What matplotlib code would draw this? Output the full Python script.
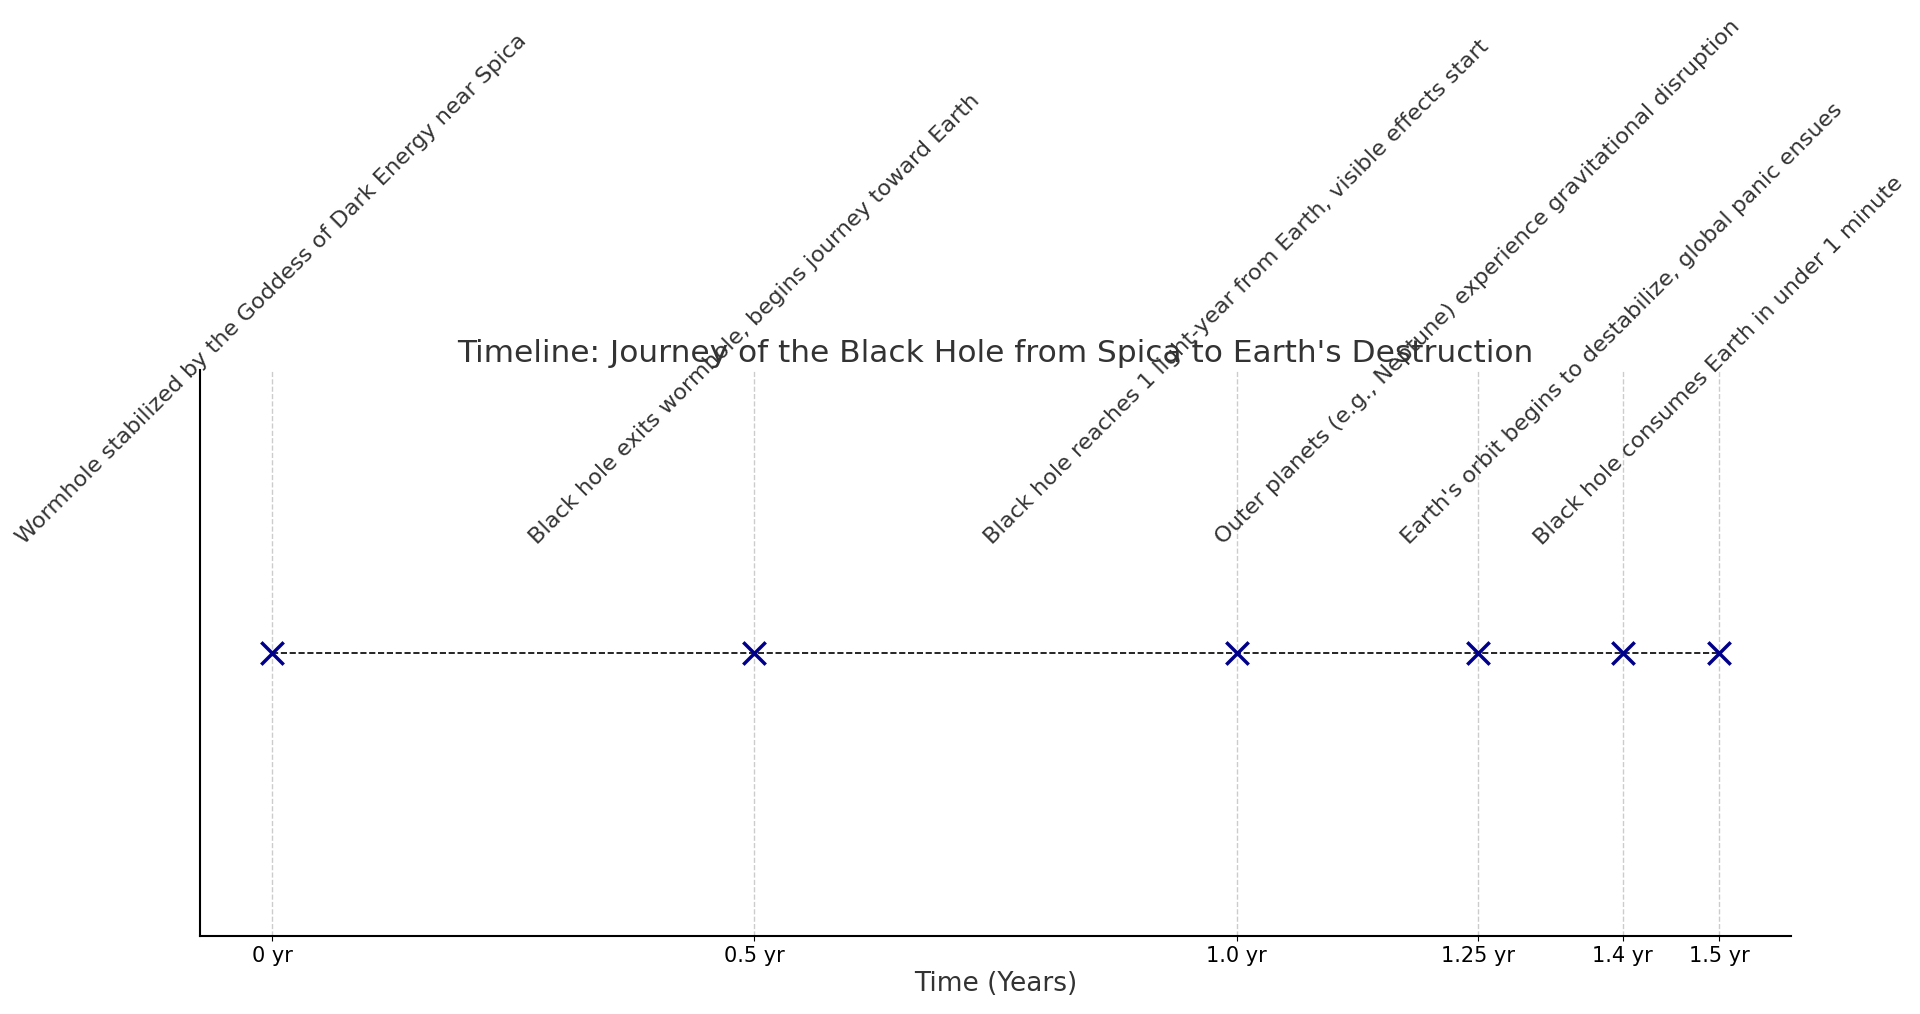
import matplotlib
matplotlib.use("Agg")
import matplotlib.pyplot as plt

times = [0, 0.5, 1.0, 1.25, 1.4, 1.5]
tick_labels = ["0 yr", "0.5 yr", "1.0 yr", "1.25 yr", "1.4 yr", "1.5 yr"]
events = [
    "Wormhole stabilized by the Goddess of Dark Energy near Spica",
    "Black hole exits wormhole, begins journey toward Earth",
    "Black hole reaches 1 light-year from Earth, visible effects start",
    "Outer planets (e.g., Neptune) experience gravitational disruption",
    "Earth's orbit begins to destabilize, global panic ensues",
    "Black hole consumes Earth in under 1 minute",
]

fig = plt.figure(figsize=(19.2, 10.14), dpi=100)
ax = fig.add_axes([0.104, 0.077, 0.829, 0.558])
c = "#333333"
ax.plot(times, [0]*len(times), "--", color="black", lw=1.2, zorder=2)
ax.scatter(times, [0]*len(times), marker="x", s=260, color="#00008b", linewidths=2.5, zorder=3)
for t, e in zip(times, events):
    ax.text(t, 0.37, e, rotation=45, ha="center", va="bottom", fontsize=16.2, color=c)
ax.set_xlim(-0.075, 1.575)
ax.set_ylim(-1, 1)
ax.set_yticks([])
ax.set_xticks(times)
ax.set_xticklabels(tick_labels, fontsize=15, color="black")
ax.grid(axis="x", linestyle="--", color="#cccccc", lw=1)
ax.set_axisbelow(True)
for s in ["top", "right"]:
    ax.spines[s].set_visible(False)
ax.spines["left"].set_linewidth(1.5)
ax.spines["bottom"].set_linewidth(1.5)
ax.set_xlabel("Time (Years)", fontsize=19, color=c)
ax.set_title("Timeline: Journey of the Black Hole from Spica to Earth's Destruction", fontsize=22.5, color=c, pad=6)
fig.savefig("out.png", dpi=100)
